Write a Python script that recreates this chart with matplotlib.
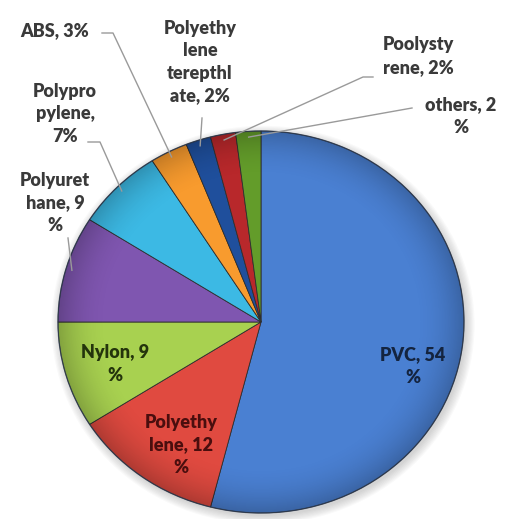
import numpy as np
import matplotlib.pyplot as plt
from matplotlib.patches import Circle, Ellipse

materials = ['PVC', 'Polyethylene', 'Nylon', 'Polyurethane', 'Polypropylene',
             'ABS', 'Polyethylene terepthalate', 'Poolystyrene', 'others']
shares = [54, 12, 9, 9, 7, 3, 2, 2, 2]
labels = ['PVC, 54\n%', 'Polyethy\nlene, 12\n%', 'Nylon, 9\n%', 'Polyuret\nhane, 9\n%',
          'Polypro\npylene,\n7%', 'ABS, 3%', 'Polyethy\nlene\nterepthl\nate, 2%',
          'Poolysty\nrene, 2%', 'others, 2\n%']
colors = ['#4a80d2', '#e04a40', '#a8d150', '#7f56b0', '#3cb9e4',
          '#f89b2e', '#1f4f9c', '#b8282b', '#639c2a']

W, H = 515, 519
cx, cy, rx, ry = 261, 322, 203, 191   # pie centre and radii in pixels

def px(x, y):
    # pixel position -> data coords
    return (x - cx) / rx, (cy - y) / ry

fig = plt.figure(figsize=(W / 100, H / 100), dpi=100)
ax = fig.add_axes([0, 0, 1, 1])

# soft drop shadow
for k in range(8):
    ax.add_patch(Ellipse((0.01, -0.015), 2 + 0.012 * k, 2 + 0.012 * k,
                         color='#606060', alpha=0.035, lw=0, zorder=0))

wedges, _ = ax.pie(shares, colors=colors, startangle=90, counterclock=False,
                   wedgeprops=dict(edgecolor='#2e2e2e', linewidth=0.6))

# darken towards the rim for a bevelled look
g = np.linspace(-1, 1, 400)
xx, yy = np.meshgrid(g, g)
rr = np.hypot(xx, yy)
shade = np.zeros((400, 400, 4))
shade[..., 3] = np.clip((rr - 0.75) / 0.25, 0, 1) ** 2 * 0.22
img = ax.imshow(shade, extent=(-1, 1, -1, 1), origin='lower', zorder=2,
                interpolation='bilinear', aspect='auto')
img.set_clip_path(Circle((0, 0), 1, transform=ax.transData))
ax.add_patch(Circle((0, 0), 1, fill=False, ec='#2a3a55', lw=1.0, alpha=0.6, zorder=3))

ax.set_aspect('auto')
ax.set_xlim(-cx / rx, (W - cx) / rx)
ax.set_ylim((cy - H) / ry, cy / ry)
ax.axis('off')

font = dict(family=['Lato', 'DejaVu Sans'], fontweight='heavy', fontsize=13,
            ha='center', va='center', linespacing=1.4, zorder=5)

# labels inside the three big wedges
inside = {0: ((413, 366), '#14243f'), 1: ((181, 445), '#4a0e0e'), 2: ((115, 364), '#24340c')}
for i, (pos, c) in inside.items():
    ax.text(*px(*pos), labels[i], color=c, **font)

# outside labels with leader lines
outside = {
    3: ((55, 203), [(68, 238)]),
    4: ((65, 114), [(88, 142), (100, 142)]),
    5: ((55, 31), [(102, 33), (113, 33)]),
    6: ((200, 62), [(202, 118)]),
    7: ((418, 56), [(373, 77), (363, 77)]),
    8: ((461, 116), [(412, 108)]),
}
angles = 90 - 360 * (np.cumsum(shares) - np.array(shares) / 2) / 100
for i, (pos, pts) in outside.items():
    ax.text(*px(*pos), labels[i], color='#3a3a3a', **font)
    a = np.deg2rad(angles[i])
    xs = [px(*p)[0] for p in pts] + [0.97 * np.cos(a)]
    ys = [px(*p)[1] for p in pts] + [0.97 * np.sin(a)]
    ax.plot(xs, ys, color='#9a9a9a', lw=1, zorder=4)

fig.savefig('out.png', dpi=100)
